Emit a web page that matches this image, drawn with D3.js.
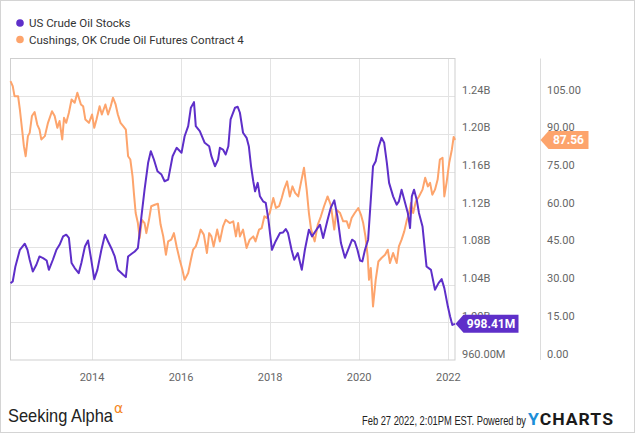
<!DOCTYPE html>
<html><head><meta charset="utf-8">
<script src="https://cdn.jsdelivr.net/npm/d3@7"></script>
<style>
body{margin:0;background:#fff;}
svg{display:block;font-family:Roboto,"Noto Sans",sans-serif;}
</style></head><body>
<svg id="c" width="635" height="433"></svg>
<script>
// ---- data ----
const seriesNames = ["US Crude Oil Stocks", "Cushings, OK Crude Oil Futures Contract 4"];
const stockDates = [2012.17,2012.22,2012.28,2012.38,2012.49,2012.55,2012.60,2012.67,2012.75,2012.82,2012.90,2012.98,2013.03,2013.12,2013.20,2013.27,2013.35,2013.42,2013.48,2013.54,2013.61,2013.70,2013.76,2013.84,2013.91,2013.97,2014.05,2014.12,2014.21,2014.29,2014.36,2014.45,2014.51,2014.58,2014.70,2014.76,2014.81,2014.89,2014.96,2015.03,2015.11,2015.18,2015.26,2015.32,2015.39,2015.47,2015.56,2015.63,2015.71,2015.81,2015.90,2016.01,2016.08,2016.16,2016.22,2016.29,2016.33,2016.42,2016.53,2016.63,2016.68,2016.76,2016.83,2016.87,2016.94,2017.00,2017.06,2017.11,2017.21,2017.27,2017.32,2017.39,2017.47,2017.52,2017.57,2017.62,2017.66,2017.72,2017.77,2017.84,2017.90,2017.96,2018.04,2018.12,2018.22,2018.29,2018.35,2018.40,2018.48,2018.54,2018.62,2018.71,2018.78,2018.87,2018.94,2019.04,2019.12,2019.19,2019.29,2019.36,2019.44,2019.51,2019.59,2019.68,2019.75,2019.84,2019.90,2019.96,2020.02,2020.07,2020.13,2020.20,2020.26,2020.31,2020.37,2020.43,2020.50,2020.56,2020.62,2020.67,2020.76,2020.84,2020.89,2020.95,2021.01,2021.09,2021.14,2021.18,2021.23,2021.29,2021.34,2021.42,2021.51,2021.61,2021.70,2021.78,2021.85,2021.91,2021.99,2022.04,2022.09,2022.15];
const stockValues = [1041.6,1043.3,1059.3,1077.0,1083.4,1077.0,1066.4,1053.9,1061.1,1069.9,1068.2,1065.6,1055.7,1066.4,1077.0,1082.3,1091.2,1093.0,1089.5,1062.9,1057.6,1052.2,1062.9,1080.5,1086.9,1069.9,1045.8,1055.7,1077.0,1093.0,1085.8,1077.0,1069.9,1055.7,1050.4,1048.0,1069.9,1072.8,1075.2,1078.8,1112.4,1140.8,1169.3,1181.6,1172.8,1160.3,1156.8,1149.7,1151.5,1176.3,1185.2,1179.9,1197.5,1208.2,1227.8,1233.7,1208.2,1202.9,1190.5,1186.9,1176.3,1165.6,1172.8,1185.2,1183.4,1178.1,1186.9,1215.3,1227.8,1228.8,1222.4,1201.2,1195.8,1186.9,1165.6,1149.7,1139.0,1148.0,1133.7,1128.4,1126.7,1108.9,1077.0,1085.8,1094.8,1095.4,1099.0,1094.8,1077.0,1066.4,1073.5,1055.7,1077.0,1098.3,1091.2,1098.3,1103.6,1089.5,1108.9,1121.4,1129.5,1112.4,1084.1,1068.5,1077.0,1087.7,1085.8,1077.0,1065.6,1064.6,1077.0,1087.7,1130.2,1165.6,1171.0,1185.2,1195.8,1190.5,1169.3,1148.0,1133.7,1124.9,1128.4,1140.8,1130.2,1116.1,1100.1,1133.7,1140.8,1130.2,1116.1,1101.8,1059.3,1055.7,1034.5,1041.6,1045.8,1036.3,1016.7,1006.1,997.2,998.41];
const futDates = [2012.17,2012.22,2012.26,2012.34,2012.38,2012.43,2012.47,2012.51,2012.56,2012.60,2012.65,2012.71,2012.77,2012.82,2012.86,2012.94,2013.01,2013.10,2013.16,2013.22,2013.27,2013.33,2013.37,2013.42,2013.48,2013.54,2013.61,2013.67,2013.75,2013.80,2013.85,2013.93,2014.00,2014.05,2014.10,2014.17,2014.22,2014.30,2014.36,2014.42,2014.47,2014.53,2014.58,2014.64,2014.70,2014.76,2014.81,2014.86,2014.91,2014.94,2014.98,2015.03,2015.07,2015.12,2015.18,2015.22,2015.28,2015.33,2015.41,2015.48,2015.54,2015.60,2015.66,2015.71,2015.78,2015.84,2015.90,2015.97,2016.03,2016.08,2016.16,2016.22,2016.27,2016.33,2016.38,2016.44,2016.51,2016.58,2016.63,2016.68,2016.73,2016.81,2016.87,2016.94,2017.00,2017.09,2017.17,2017.23,2017.28,2017.32,2017.39,2017.47,2017.54,2017.62,2017.67,2017.75,2017.81,2017.87,2017.92,2017.99,2018.07,2018.13,2018.20,2018.26,2018.31,2018.38,2018.44,2018.50,2018.56,2018.63,2018.69,2018.76,2018.82,2018.87,2018.92,2019.00,2019.07,2019.14,2019.21,2019.29,2019.36,2019.44,2019.49,2019.57,2019.64,2019.72,2019.77,2019.83,2019.90,2019.98,2020.04,2020.09,2020.14,2020.19,2020.22,2020.26,2020.31,2020.37,2020.43,2020.50,2020.58,2020.64,2020.69,2020.76,2020.84,2020.89,2020.95,2021.01,2021.07,2021.12,2021.16,2021.21,2021.27,2021.34,2021.42,2021.48,2021.54,2021.59,2021.64,2021.70,2021.76,2021.81,2021.87,2021.91,2021.96,2022.02,2022.08,2022.12,2022.15];
const futValues = [111.0,109.0,105.0,105.0,99.7,91.7,85.1,81.1,89.1,90.4,97.1,98.7,93.7,91.7,87.8,89.1,94.4,99.0,97.1,92.4,95.1,87.8,96.4,94.4,98.4,103.7,102.4,106.4,101.7,101.0,95.7,94.4,97.7,92.4,95.7,101.0,97.7,101.7,97.7,101.0,104.4,101.7,97.7,94.4,93.1,91.7,81.1,79.8,73.1,66.5,58.5,54.5,48.5,55.8,54.5,50.5,55.8,61.2,61.8,62.2,53.9,49.2,41.9,47.2,47.9,50.5,45.2,39.9,35.9,31.9,34.6,39.9,43.9,45.2,47.9,51.9,49.9,42.6,50.5,49.2,45.2,51.9,47.2,53.2,55.8,54.5,55.2,49.2,54.5,49.2,51.9,44.6,47.9,49.2,47.2,51.9,52.5,57.2,56.5,58.5,64.5,60.5,61.2,64.5,67.8,71.1,65.1,69.1,66.5,65.1,70.5,76.5,67.8,58.5,51.9,47.2,53.9,57.2,61.2,65.1,61.8,51.9,59.8,58.5,55.2,55.2,52.5,56.5,58.5,60.5,57.8,54.5,49.2,41.2,31.9,36.6,21.3,31.9,39.2,40.6,41.9,43.9,38.6,42.6,38.6,45.2,47.9,51.2,55.8,58.5,62.5,58.5,63.1,65.1,67.8,72.5,69.1,70.5,65.8,67.8,71.8,79.8,80.5,65.1,70.5,78.5,83.8,88.8,87.56];
const xTickYears = [2014, 2016, 2018, 2020, 2022];
const leftTicks = [960, 1000, 1040, 1080, 1120, 1160, 1200, 1240];          // millions
const leftTickLabels = ["960.00M","1.00B","1.04B","1.08B","1.12B","1.16B","1.20B","1.24B"];
const rightTicks = [0, 15, 30, 45, 60, 75, 90, 105];
const rightTickLabels = ["0.00","15.00","30.00","45.00","60.00","75.00","90.00","105.00"];
const lastStockLabel = "998.41M";
const lastFutLabel = "87.56";

// ---- helpers ----
function yearToDate(y){
  const yr = Math.floor(y);
  const a = new Date(yr,0,1), b = new Date(yr+1,0,1);
  return new Date(+a + (y-yr)*(b-a));
}
const stocks = stockDates.map((d,i)=>({date:yearToDate(d), v:stockValues[i]}));
const futs = futDates.map((d,i)=>({date:yearToDate(d), v:futValues[i]}));

const PURPLE = "#5e2fc9", ORANGE = "#fda46c";
const L = 10.5, R = 455, T = 58.5, B = 360;

const svg = d3.select("#c");
svg.append("rect").attr("x",0.5).attr("y",0.5).attr("width",634).attr("height",432)
  .attr("fill","#fff").attr("stroke","#d4d4d4");

const x = d3.scaleTime().domain([stocks[0].date, stocks[stocks.length-1].date]).range([L, R]);
const yL = d3.scaleLinear().domain([960, 1280]).range([B, T]);
const yR = d3.scaleLinear().domain([0, 120]).range([B, T]);

// grid
const g = svg.append("g");
g.selectAll("line.h").data(leftTicks.slice(1)).join("line")
  .attr("x1",L).attr("x2",R).attr("y1",d=>Math.round(yL(d))+0.5).attr("y2",d=>Math.round(yL(d))+0.5)
  .attr("stroke","#e3e3e3");
g.selectAll("line.v").data(xTickYears).join("line")
  .attr("x1",d=>Math.round(x(yearToDate(d)))+0.5).attr("x2",d=>Math.round(x(yearToDate(d)))+0.5)
  .attr("y1",T).attr("y2",B).attr("stroke","#e3e3e3");
// frame
svg.append("rect").attr("x",L).attr("y",T).attr("width",R-L).attr("height",B-T)
  .attr("fill","none").attr("stroke","#cfcfcf");
svg.append("line").attr("x1",540.5).attr("x2",540.5).attr("y1",T).attr("y2",B).attr("stroke","#dcdcdc");

// axes labels
svg.append("g").selectAll("text").data(leftTicks).join("text")
  .attr("x",462).attr("y",d=>yL(d)-2.5).attr("font-size",11).attr("fill","#666")
  .text((d,i)=>leftTickLabels[i]);
svg.append("g").selectAll("text").data(rightTicks).join("text")
  .attr("x",547).attr("y",d=>yR(d)-2.5).attr("font-size",11).attr("fill","#666")
  .text((d,i)=>rightTickLabels[i]);
svg.append("g").selectAll("text").data(xTickYears).join("text")
  .attr("x",d=>x(yearToDate(d))).attr("y",381).attr("text-anchor","middle")
  .attr("font-size",11).attr("fill","#666").text(d=>d);

// lines
const lineL = d3.line().x(d=>x(d.date)).y(d=>yL(d.v));
const lineR = d3.line().x(d=>x(d.date)).y(d=>yR(d.v));
svg.append("path").datum(futs).attr("d",lineR).attr("fill","none")
  .attr("stroke",ORANGE).attr("stroke-width",2).attr("stroke-linejoin","round");
svg.append("path").datum(stocks).attr("d",lineL).attr("fill","none")
  .attr("stroke",PURPLE).attr("stroke-width",2).attr("stroke-linejoin","round");

// last value tags
function tag(tipX, cy, w, color, label){
  const h = 18, a = 8;
  svg.append("path")
    .attr("d",`M${tipX},${cy} L${tipX+a},${cy-h/2} L${tipX+a+w},${cy-h/2} L${tipX+a+w},${cy+h/2} L${tipX+a},${cy+h/2} Z`)
    .attr("fill",color);
  svg.append("text").attr("x",tipX+a+w/2).attr("y",cy+4.3).attr("text-anchor","middle")
    .attr("font-size",12).attr("font-weight","bold").attr("fill","#fff").text(label);
}
tag(455.5, yL(stockValues[stockValues.length-1]), 55, PURPLE, lastStockLabel);
tag(540.5, yR(futValues[futValues.length-1]), 40, ORANGE, lastFutLabel);

// legend
const leg = svg.append("g");
[PURPLE, ORANGE].forEach((c,i)=>{
  leg.append("circle").attr("cx",20).attr("cy",23+i*16.5).attr("r",3.8).attr("fill",c);
  leg.append("text").attr("x",29).attr("y",27.2+i*16.5).attr("font-size",11.5).attr("fill","#333")
    .text(seriesNames[i]);
});

// footer
svg.append("text").attr("x",8).attr("y",422).attr("font-family","'Liberation Sans Narrow','Liberation Sans',sans-serif")
  .attr("font-size",19).attr("fill","#222").attr("textLength",105).attr("lengthAdjust","spacingAndGlyphs")
  .text("Seeking Alpha");
svg.append("text").attr("x",114).attr("y",413).attr("font-family","'DejaVu Sans',sans-serif")
  .attr("font-size",14).attr("fill","#f5871f").text("α");
svg.append("text").attr("x",362).attr("y",425).attr("font-family","'Liberation Sans Narrow','Liberation Sans',sans-serif")
  .attr("font-size",12).attr("fill","#222").attr("textLength",164).attr("lengthAdjust","spacingAndGlyphs")
  .text("Feb 27 2022, 2:01PM EST.  Powered by");
const yc = svg.append("text").attr("x",528).attr("y",425).attr("font-size",17).attr("font-weight","bold")
  .attr("textLength",86).attr("lengthAdjust","spacingAndGlyphs").attr("letter-spacing",1);
yc.append("tspan").attr("fill","#1d8fd8").text("Y");
yc.append("tspan").attr("fill","#1a1a1a").text("CHARTS");
</script>
</body></html>
